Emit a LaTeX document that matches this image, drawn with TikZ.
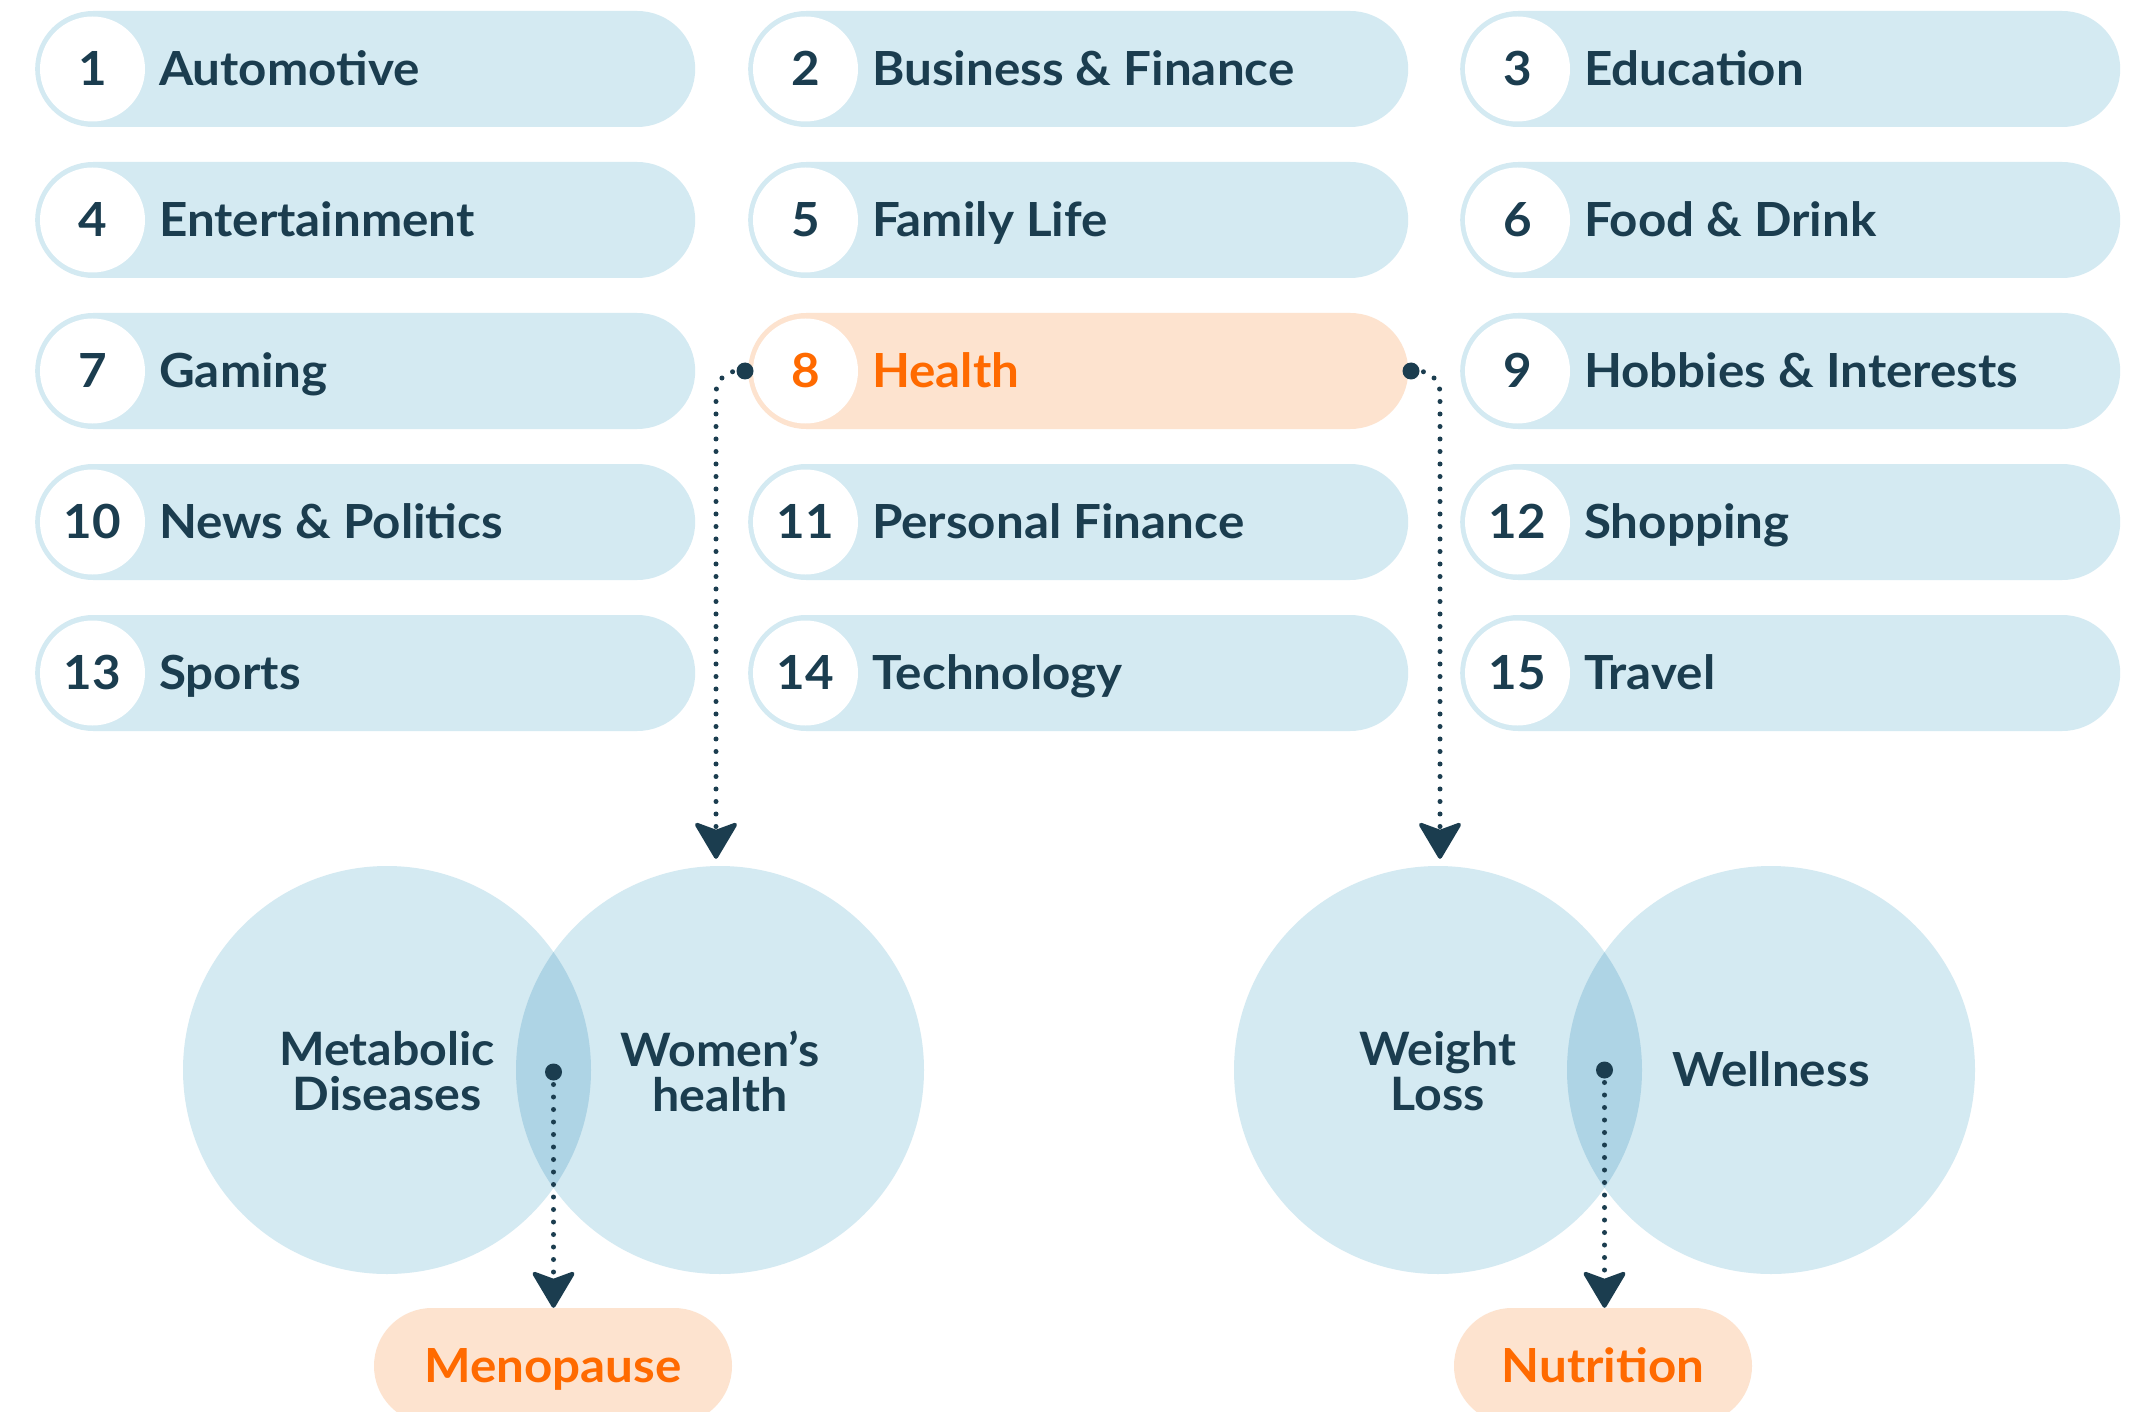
\documentclass[tikz,border=0pt]{standalone}
\usepackage{fontspec}
\setmainfont{Lato}[FakeStretch=1.05]
\newcommand\wt{\bfseries}
\definecolor{pillblue}{HTML}{D4EAF2}
\definecolor{ink}{HTML}{1B3D4F}
\definecolor{orng}{HTML}{FF6A00}
\definecolor{peach}{HTML}{FDE3CF}
\definecolor{lens}{HTML}{AED4E5}
\tikzset{
  pill/.style={fill=#1, rounded corners=58pt, minimum width=660pt, minimum height=116pt, inner sep=0pt, anchor=west},
  numcirc/.style={circle, fill=white, minimum size=105pt, inner sep=0pt},
  txt/.style={font=\fontsize{47}{47}\selectfont\wt, inner sep=0pt, text height=33.5pt, text depth=0pt},
  vtxt/.style={font=\fontsize{46}{45}\selectfont\wt, inner sep=0pt, align=center, text=ink},
  vcirc/.style={circle, fill=pillblue, minimum size=408pt, inner sep=0pt},
  subpill/.style={txt, fill=peach, text=orng, rounded corners=58pt, minimum height=116pt},
  dotn/.style={circle, fill=ink, minimum size=17pt, inner sep=0pt},
  dotline/.style={draw=ink, line width=5pt, line cap=round, dash pattern=on 0pt off 12.5pt},
  arrowhd/.style={fill=ink, draw=ink, line width=4pt, line join=round},
}
\newcommand\pitem[7]{%
  \node[pill=#6] (#1) at (#2,#3) {};
  \node[numcirc] (#1n) at ([xshift=57.5pt]#1.west) {};
  \node[txt, text=#7] (#1d) at (#1n) {#4};
  \node[txt, anchor=west, text=#7] (#1l) at ([xshift=124pt]#1.west) {#5};
}
\newcommand\ahead[1]{%
  \path[arrowhd] ([yshift=2pt]#1) -- ++(-19,-32) -- ++(19,7) -- ++(19,-7) -- cycle;
}
\begin{document}
\begin{tikzpicture}[x=1pt,y=-1pt]
\useasboundingbox (0,0) rectangle (2152,1412);
\fill[white] (0,0) rectangle (2152,1412);
% grid of pills
\pitem{p1}{35}{69}{1}{Automotive}{pillblue}{ink}
\pitem{p2}{748}{69}{2}{Business \& Finance}{pillblue}{ink}
\pitem{p3}{1460}{69}{3}{Education}{pillblue}{ink}
\pitem{p4}{35}{220}{4}{Entertainment}{pillblue}{ink}
\pitem{p5}{748}{220}{5}{Family Life}{pillblue}{ink}
\pitem{p6}{1460}{220}{6}{Food \& Drink}{pillblue}{ink}
\pitem{p7}{35}{371}{7}{Gaming}{pillblue}{ink}
\pitem{p8}{748}{371}{8}{Health}{peach}{orng}
\pitem{p9}{1460}{371}{9}{Hobbies \& Interests}{pillblue}{ink}
\pitem{p10}{35}{522}{10}{News \& Politics}{pillblue}{ink}
\pitem{p11}{748}{522}{11}{Personal Finance}{pillblue}{ink}
\pitem{p12}{1460}{522}{12}{Shopping}{pillblue}{ink}
\pitem{p13}{35}{673}{13}{Sports}{pillblue}{ink}
\pitem{p14}{748}{673}{14}{Technology}{pillblue}{ink}
\pitem{p15}{1460}{673}{15}{Travel}{pillblue}{ink}
% left venn
\node[vcirc] (md) at (387,1070) {};
\node[vcirc] (wh) at (720,1070) {};
\begin{scope}
  \clip (387,1070) circle[radius=204pt];
  \fill[lens] (720,1070) circle[radius=204pt];
\end{scope}
\node[vtxt] (mdt) at (387,1071) {Metabolic\\Diseases};
\node[vtxt] (wht) at (720,1071) {Women’s\\health};
% right venn
\node[vcirc] (wl) at (1438,1070) {};
\node[vcirc] (we) at (1771,1070) {};
\begin{scope}
  \clip (1438,1070) circle[radius=204pt];
  \fill[lens] (1771,1070) circle[radius=204pt];
\end{scope}
\node[vtxt] (wlt) at (1438,1071) {Weight\\Loss};
\node[txt, text=ink] (wet) at (1771,1070) {Wellness};
% sub topics
\node[subpill, minimum width=358pt] (meno) at (553,1366) {Menopause};
\node[subpill, minimum width=298pt] (nutr) at (1603,1366) {Nutrition};
% dots
\node[dotn] (hL) at (745,371) {};
\node[dotn] (hR) at (1411,371) {};
\node[dotn] (i1) at (553.5,1072) {};
\node[dotn] (i2) at (1604.5,1070) {};
% arrow tip points
\coordinate (t1) at ([xshift=-4pt,yshift=7pt]wh.north);
\coordinate (t2) at ([xshift=2pt,yshift=7pt]wl.north);
\coordinate (t3) at (i1.center |- meno.north);
\coordinate (t4) at (i2.center |- nutr.north);
% connectors
\draw[dotline, rounded corners=22pt] (hL.center) -| ([yshift=28pt]t1);
\draw[dotline, rounded corners=22pt] (hR.center) -| ([yshift=28pt]t2);
\draw[dotline] (i1.center) -- ([yshift=28pt]t3);
\draw[dotline] (i2.center) -- ([yshift=28pt]t4);
\ahead{t1}
\ahead{t2}
\ahead{t3}
\ahead{t4}
\end{tikzpicture}
\end{document}
